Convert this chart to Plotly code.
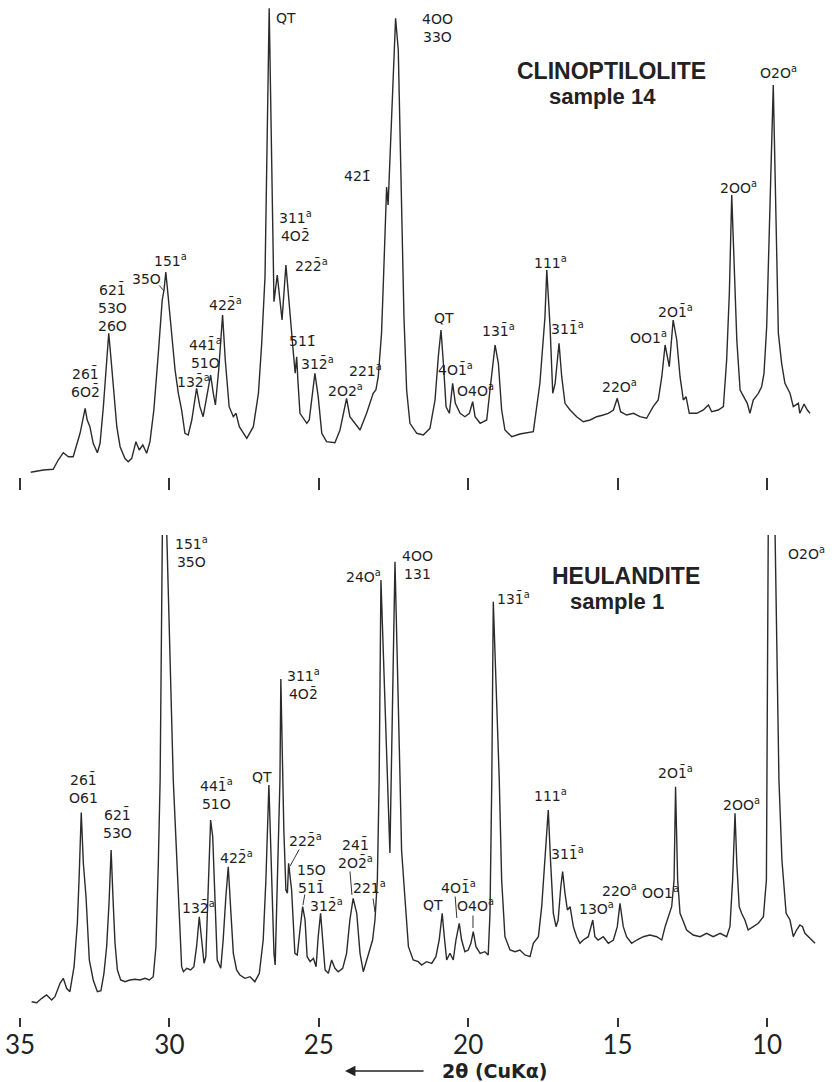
import plotly.graph_objects as go

# ---------------- data (2-theta in degrees, intensity in arbitrary units) -------------
top_theta = [34.64, 34.22, 33.89, 33.72, 33.55, 33.38, 33.22, 32.99, 32.82, 32.75, 32.66, 32.55,
             32.41, 32.32, 32.21, 32.12, 32.03, 31.95, 31.85, 31.76, 31.65, 31.49, 31.38, 31.26,
             31.12, 31.01, 30.89, 30.76, 30.65, 30.52, 30.37, 30.24, 30.18, 30.12, 30.04, 29.92,
             29.81, 29.70, 29.59, 29.48, 29.37, 29.25, 29.09, 28.98, 28.87, 28.73, 28.62, 28.53,
             28.46, 28.35, 28.22, 28.13, 28.00, 27.86, 27.77, 27.66, 27.41, 27.19, 27.02, 26.91,
             26.80, 26.66, 26.54, 26.50, 26.39, 26.23, 26.10, 25.96, 25.85, 25.79, 25.74, 25.70,
             25.63, 25.40, 25.32, 25.13, 25.02, 24.90, 24.74, 24.46, 24.29, 24.07, 23.96, 23.62,
             23.40, 23.18, 23.09, 23.01, 22.90, 22.84, 22.73, 22.68, 22.43, 22.34, 22.17, 22.15,
             22.06, 21.95, 21.72, 21.50, 21.28, 21.11, 21.00, 20.91, 20.83, 20.74, 20.63, 20.52,
             20.43, 20.27, 20.11, 19.96, 19.85, 19.77, 19.60, 19.38, 19.27, 19.10, 18.99, 18.88,
             18.77, 18.54, 18.27, 17.99, 17.82, 17.60, 17.43, 17.37, 17.26, 17.17, 17.09, 16.96,
             16.87, 16.76, 16.59, 16.37, 16.15, 15.92, 15.70, 15.48, 15.31, 15.14, 15.01, 14.90,
             14.70, 14.47, 14.25, 14.03, 13.81, 13.64, 13.52, 13.41, 13.27, 13.14, 13.02, 12.91,
             12.80, 12.71, 12.60, 12.35, 12.13, 11.96, 11.85, 11.63, 11.46, 11.35, 11.26, 11.18,
             11.09, 11.01, 10.90, 10.79, 10.66, 10.57, 10.46, 10.29, 10.18, 10.10, 10.01, 9.79,
             9.62, 9.51, 9.40, 9.23, 9.12, 8.95, 8.90, 8.76, 8.65, 8.56]
top_int = [7.7, 10, 10.7, 20, 27.3, 23.3, 23.3, 46.7, 71.7, 60, 53.3, 36.7,
           27.3, 36.7, 73.3, 113.3, 146.7, 120, 80, 53.3, 33.3, 21.7, 18.3, 21.7,
           38.3, 30, 35, 26.7, 38.3, 70, 126.7, 180, 190, 208, 183.3, 146.7,
           110, 86.7, 70, 46.7, 45, 60, 91.7, 73.3, 63.3, 86.7, 105, 86.7,
           75, 110, 165, 120, 73.3, 63.3, 66.7, 53.3, 41.7, 53.3, 86.7, 136.7,
           203.3, 471.7, 247, 178.3, 205, 160, 215, 170, 126.7, 106.7, 123.3, 100,
           66.7, 56.7, 60, 106.7, 83.3, 46.7, 38.3, 37.3, 50, 81.7, 63.3, 50,
           66.7, 86.7, 90, 103.3, 146.7, 196.7, 293, 275, 461.7, 430, 180, 163.3,
           90, 56.7, 46.7, 45, 51.7, 80, 123.3, 150, 116.7, 73.3, 66.7, 96.7,
           76.7, 66.7, 63.3, 66.7, 78.3, 63.3, 56.7, 60, 90, 135, 116.7, 70,
           50, 43.3, 46, 47.3, 48.3, 96.7, 163.3, 210, 153.3, 86.7, 96.7, 136.7,
           103.3, 76.7, 70, 63.3, 58.3, 60, 63.3, 65, 66.7, 70, 81.7, 68.3,
           65, 66.7, 63.3, 61.7, 73.3, 80, 103.3, 135, 113.3, 160, 140, 103.3,
           80, 83.3, 66.7, 66.7, 70, 75, 68.3, 70, 73.3, 120, 186.7, 285,
           200, 140, 90, 83.3, 76.7, 66.7, 80, 86.7, 93.3, 106.7, 153.3, 395,
           146.7, 116.7, 96.7, 86.7, 73.3, 76.7, 66.7, 76, 70, 66.7]

bot_theta = [34.61, 34.44, 34.27, 34.11, 33.94, 33.83, 33.66, 33.55, 33.44, 33.33, 33.19, 33.08,
             33.02, 32.95, 32.88, 32.79, 32.68, 32.55, 32.41, 32.29, 32.19, 32.10, 32.02, 31.95,
             31.88, 31.82, 31.74, 31.63, 31.49, 31.32, 31.15, 30.98, 30.82, 30.67, 30.54, 30.45,
             30.37, 30.31, 30.15, 30.10, 29.87, 29.76, 29.67, 29.59, 29.53, 29.42, 29.29, 29.18,
             29.09, 29.00, 28.92, 28.84, 28.78, 28.70, 28.62, 28.55, 28.47, 28.40, 28.28, 28.20,
             28.11, 28.03, 27.94, 27.86, 27.75, 27.64, 27.47, 27.30, 27.14, 26.99, 26.86, 26.77,
             26.67, 26.58, 26.50, 26.46, 26.39, 26.30, 26.27, 26.17, 26.10, 26.05, 26.01, 25.91,
             25.80, 25.72, 25.63, 25.54, 25.46, 25.39, 25.29, 25.18, 25.09, 25.02, 24.94, 24.87,
             24.79, 24.68, 24.57, 24.46, 24.35, 24.20, 24.07, 23.96, 23.85, 23.73, 23.62, 23.51,
             23.40, 23.29, 23.20, 23.12, 23.04, 22.98, 22.92, 22.62, 22.45, 22.28, 22.23, 22.12,
             22.00, 21.84, 21.67, 21.56, 21.39, 21.22, 21.08, 20.97, 20.87, 20.80, 20.72, 20.61,
             20.50, 20.41, 20.30, 20.22, 20.11, 20.00, 19.91, 19.83, 19.74, 19.60, 19.44, 19.33,
             19.27, 19.21, 19.16, 18.96, 18.88, 18.77, 18.60, 18.43, 18.27, 18.10, 17.93, 17.82,
             17.65, 17.54, 17.43, 17.32, 17.24, 17.15, 17.06, 16.99, 16.90, 16.84, 16.76, 16.68,
             16.59, 16.48, 16.37, 16.26, 16.15, 15.98, 15.83, 15.76, 15.65, 15.48, 15.31, 15.14,
             15.01, 14.92, 14.81, 14.70, 14.53, 14.36, 14.14, 13.92, 13.69, 13.52, 13.41, 13.30,
             13.19, 13.11, 13.06, 12.99, 12.91, 12.82, 12.69, 12.47, 12.24, 12.02, 11.80, 11.57,
             11.35, 11.24, 11.15, 11.07, 11.01, 10.93, 10.85, 10.74, 10.63, 10.46, 10.29, 10.12,
             10.02, 9.92, 9.73, 9.60, 9.50, 9.36, 9.23, 9.12, 9.01, 8.90, 8.81, 8.73,
             8.62, 8.50, 8.39]
bot_int = [8.3, 7.3, 11.7, 15, 10, 13.3, 26.7, 31.7, 21.7, 18.3, 43.3, 86.7,
           133.3, 197.5, 146.7, 113.3, 50, 30, 18.3, 19.3, 36.7, 63.3, 106.7, 160,
           106.7, 66.7, 40, 30, 28.3, 30, 30.7, 30, 31.7, 30, 33.3, 63.3,
           146.7, 230, 760, 490, 230, 146.7, 96.7, 43.3, 38.3, 41.7, 40, 43.3,
           63.3, 93.3, 70, 46.7, 53.3, 130, 190, 173.3, 96.7, 50, 41.7, 70,
           113.3, 143.3, 96.7, 56.7, 40, 35, 31.7, 33.3, 28.3, 36.7, 70, 130,
           225, 130, 56.7, 45, 130, 230, 331, 180, 120, 116.7, 146.7, 120,
           56.7, 55, 80, 103.3, 90, 53.3, 48.3, 51.7, 43.3, 73.3, 96.7, 73.3,
           40, 36.7, 50, 41.7, 38.3, 41.7, 56.7, 90, 111.7, 96.7, 56.7, 38.3,
           50, 60, 70, 90, 130, 230, 430, 157, 448.3, 230, 160, 113.3,
           63.3, 50, 48.3, 45, 48.3, 46.7, 53.3, 70, 96.7, 73.3, 50, 56.7,
           50, 70, 86.7, 70, 58.3, 60, 66.7, 78.3, 63.3, 56.7, 58.3, 55,
           96.7, 230, 408.3, 230, 130, 73.3, 60, 58.3, 60, 55, 53.3, 66.7,
           73.3, 103.3, 146.7, 200, 146.7, 96.7, 83.3, 90, 123.3, 138.3, 116.7, 100,
           103.3, 83.3, 73.3, 66.7, 70, 73.3, 90, 73.3, 70, 73.3, 66.7, 70,
           83.3, 106.7, 83.3, 73.3, 66.7, 70, 73.3, 75, 73.3, 70, 83.3, 93.3,
           103.3, 130, 223.3, 130, 96.7, 90, 80, 75, 73.3, 76.7, 73.3, 76.7,
           73.3, 83.3, 130, 196.7, 146.7, 103.3, 96.7, 90, 80, 83.3, 86.7, 93.3,
           130, 692, 477, 230, 150, 96.7, 90, 73.3, 80, 85, 83.3, 76.7,
           73.3, 70, 66.7]

tick_values = [35, 30, 25, 20, 15, 10]
tick_text = ["35", "30", "25", "20", "15", "10"]

B = "\u0304"          # overbar (negative index)
A = "<sup>a</sup>"

# (text, 2theta, intensity, anchor)
top_labels = [
    ("QT", 26.10, 462, "center"),
    ("4OO<br>33O", 21.04, 452, "center"),
    ("O2O" + A, 9.60, 408, "center"),
    ("2OO" + A, 10.94, 293, "center"),
    ("421" + B, 23.69, 304, "center"),
    ("311" + A + "<br>4O2" + B, 26.40, 254, "left"),
    ("222" + B + A, 25.86, 215, "left"),
    ("151" + A, 29.95, 220, "center"),
    ("35O", 30.75, 201, "center"),
    ("621" + B + "<br>53O<br>26O", 31.92, 173, "center"),
    ("261" + B + "<br>6O2" + B, 32.82, 98, "center"),
    ("422" + B + A, 28.11, 176, "center"),
    ("441" + B + A + "<br>51O", 28.78, 127, "center"),
    ("132" + B + A, 29.21, 99, "center"),
    ("511" + B, 25.56, 139, "center"),
    ("312" + B + A, 25.03, 117, "center"),
    ("221" + A, 23.45, 110, "center"),
    ("2O2" + A, 24.12, 90, "center"),
    ("QT", 20.81, 162, "center"),
    ("4O1" + B + A, 20.41, 111, "center"),
    ("O4O" + A, 19.74, 90, "center"),
    ("131" + B + A, 19.00, 150, "center"),
    ("111" + A, 17.26, 218, "center"),
    ("311" + B + A, 16.69, 152, "center"),
    ("22O" + A, 14.92, 94, "center"),
    ("OO1" + A, 13.95, 143, "center"),
    ("2O1" + B + A, 13.05, 169, "center"),
]
bot_labels = [
    ("151" + A + "<br>35O", 29.88, 458, "left"),
    ("261" + B + "<br>O61", 32.86, 222, "center"),
    ("621" + B + "<br>53O", 31.75, 187, "center"),
    ("441" + B + A + "<br>51O", 28.44, 216, "center"),
    ("QT", 26.90, 233, "center"),
    ("311" + A + "<br>4O2" + B, 26.13, 326, "left"),
    ("24O" + A, 23.52, 434, "center"),
    ("4OO<br>131", 21.71, 445, "center"),
    ("131" + B + A, 18.50, 412, "center"),
    ("O2O" + A, 8.69, 457, "center"),
    ("2O1" + B + A, 13.05, 238, "center"),
    ("2OO" + A, 10.84, 206, "center"),
    ("111" + A, 17.23, 215, "center"),
    ("311" + B + A, 16.66, 157, "center"),
    ("13O" + A, 15.69, 102, "center"),
    ("22O" + A, 14.92, 120, "center"),
    ("OO1" + A, 13.58, 118, "center"),
    ("QT", 21.18, 105, "center"),
    ("4O1" + B + A, 20.34, 123, "center"),
    ("O4O" + A, 19.74, 105, "center"),
    ("132" + B + A, 29.04, 103, "center"),
    ("422" + B + A, 27.77, 153, "center"),
    ("222" + B + A, 25.46, 170, "center"),
    ("15O<br>511" + B, 25.26, 131, "center"),
    ("312" + B + A, 24.73, 105, "center"),
    ("241" + B + "<br>2O2" + B + A, 23.76, 157, "center"),
    ("221" + A, 23.29, 123, "center"),
]
# label leader lines: (tail 2theta, tail I, head 2theta, head I)
top_leaders = [(30.38, 196, 30.18, 189)]
bot_leaders = [(25.63, 162, 25.96, 144), (25.46, 117, 25.53, 105), (23.96, 140, 23.89, 115),
               (23.19, 113, 23.12, 98), (20.44, 115, 20.38, 92), (19.84, 96, 19.84, 82)]

# ---------------- figure ----------------
LINE = dict(color="#2b2b2b", width=1.4)
XR = [35.669, 7.724]

fig = go.Figure()
fig.add_trace(go.Scatter(x=top_theta, y=top_int, mode="lines", line=LINE,
                         xaxis="x2", yaxis="y2", hoverinfo="skip", showlegend=False))
fig.add_trace(go.Scatter(x=bot_theta, y=bot_int, mode="lines", line=LINE,
                         xaxis="x", yaxis="y", hoverinfo="skip", showlegend=False))

LFONT = dict(family="DejaVu Sans", size=14, color="#1e1e1e")
ann = []
for txt, x, y, anc in top_labels:
    ann.append(dict(text=txt, x=x, y=y, xref="x2", yref="y2", showarrow=False,
                    xanchor=anc, yanchor="middle", font=LFONT))
for txt, x, y, anc in bot_labels:
    ann.append(dict(text=txt, x=x, y=y, xref="x", yref="y", showarrow=False,
                    xanchor=anc, yanchor="middle", font=LFONT))
for (ax, ay, hx, hy) in top_leaders:
    ann.append(dict(text="", x=hx, y=hy, ax=ax, ay=ay, xref="x2", yref="y2",
                    axref="x2", ayref="y2", showarrow=True, arrowhead=0,
                    arrowwidth=1, arrowcolor="#333"))
for (ax, ay, hx, hy) in bot_leaders:
    ann.append(dict(text="", x=hx, y=hy, ax=ax, ay=ay, xref="x", yref="y",
                    axref="x", ayref="y", showarrow=True, arrowhead=0,
                    arrowwidth=1, arrowcolor="#333"))

TFONT = dict(family="Liberation Sans", size=23, color="#222")
SFONT = dict(family="Liberation Sans", size=22, color="#222")
ann += [
    dict(text="<b>CLINOPTILOLITE</b>", x=15.19, y=409, xref="x2", yref="y2",
         showarrow=False, font=TFONT, xanchor="center", yanchor="middle"),
    dict(text="<b>sample 14</b>", x=15.49, y=384, xref="x2", yref="y2",
         showarrow=False, font=SFONT, xanchor="center", yanchor="middle"),
    dict(text="<b>HEULANDITE</b>", x=14.72, y=434, xref="x", yref="y",
         showarrow=False, font=TFONT, xanchor="center", yanchor="middle"),
    dict(text="<b>sample 1</b>", x=15.02, y=409, xref="x", yref="y",
         showarrow=False, font=SFONT, xanchor="center", yanchor="middle"),
    dict(text="<b>2θ (CuKα)</b>", x=0.5928, y=0.0102, xref="paper", yref="paper",
         xanchor="center", yanchor="middle",
         showarrow=False, font=dict(family="DejaVu Sans", size=19, color="#222")),
    dict(text="", x=0.4132, y=0.0102, xref="paper", yref="paper", ax=80, ay=0,
         showarrow=True, arrowhead=2, arrowsize=1.3, arrowwidth=1.6, arrowcolor="#222"),
]

fig.update_layout(
    width=835, height=1082, margin=dict(l=0, r=0, t=0, b=0),
    paper_bgcolor="white", plot_bgcolor="white",
    xaxis=dict(domain=[0, 1], range=XR, anchor="y", tickvals=tick_values, ticktext=tick_text,
               ticks="inside", ticklen=9, tickwidth=1.5, tickcolor="#333",
               showline=False, showgrid=False, zeroline=False, automargin=False,
               tickfont=dict(family="Lato", size=26, color="#222")),
    xaxis2=dict(domain=[0, 1], range=XR, anchor="y2", tickvals=tick_values,
                ticks="inside", ticklen=12, tickwidth=1.5, tickcolor="#333",
                showticklabels=False, showline=False, showgrid=False, zeroline=False),
    yaxis=dict(domain=[0.05083, 0.505545], range=[-17, 475], visible=False),
    yaxis2=dict(domain=[0.54713, 1.0], range=[-10, 480], visible=False),
    annotations=ann,
)

fig.write_html("out.html")
